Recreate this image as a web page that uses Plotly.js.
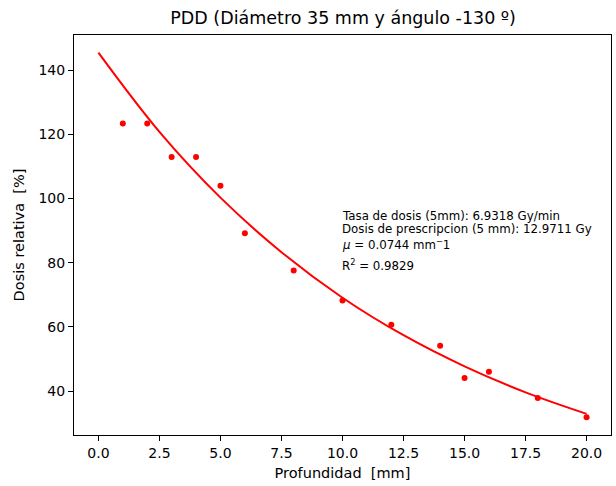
<!DOCTYPE html>
<html>
<head>
<meta charset="utf-8">
<script src="https://cdn.plot.ly/plotly-3.0.1.min.js"></script>
<style>html,body{margin:0;padding:0;background:#fff;}</style>
</head>
<body>
<div id="chart" style="width:616px;height:486px;"></div>
<script>
// Measured points
const depth = [1, 2, 3, 4, 5, 6, 8, 10, 12, 14, 15, 16, 18, 20];
const dose = [123.4, 123.4, 113.0, 113.0, 104.0, 89.2, 77.6, 68.2, 60.7, 54.1, 44.1, 46.0, 37.8, 31.8];
// Fitted curve
const fitDepth = [0, 2.5, 5, 7.5, 10, 12.5, 15, 17.5, 20];
const fitDose = [145.5, 120.8, 100.3, 83.3, 69.1, 57.4, 47.7, 39.6, 32.9];
// Text
const titleText = 'PDD (Diámetro 35 mm y ángulo -130 º)';
const xLabel = 'Profundidad\u00a0\u00a0[mm]';
const yLabel = 'Dosis relativa\u00a0\u00a0[%]';
const infoLines = [
  'Tasa de dosis (5mm): 6.9318 Gy/min',
  'Dosis de prescripcion (5 mm): 12.9711 Gy',
  '<i>μ</i> = 0.0744 mm<sup>−</sup>1',
  'R<sup>2</sup> = 0.9829'
];
const infoY = [94.5, 90.4, 85.8, 79.2];

const font = 'DejaVu Sans, sans-serif';
const traces = [
  {x: fitDepth, y: fitDose, mode: 'lines', line: {color: '#ff0000', width: 2, shape: 'spline', smoothing: 1}, hoverinfo: 'skip'},
  {x: depth, y: dose, mode: 'markers', marker: {color: '#ff0000', size: 6}}
];
const annotations = infoLines.map((t, i) => ({
  x: 9.93, y: infoY[i], xref: 'x', yref: 'y', text: t, showarrow: false,
  xanchor: 'left', yanchor: 'middle', borderpad: 0,
  font: {family: font, size: 11.8, color: '#000'}
}));
const axisBase = {
  showgrid: false, zeroline: false, showline: true, mirror: true,
  linecolor: '#000', linewidth: 1, ticks: 'outside', ticklen: 5, tickcolor: '#000',
  tickfont: {family: font, size: 14, color: '#000'}
};
const layout = {
  width: 616, height: 486,
  margin: {l: 74, r: 5, t: 35, b: 51},
  paper_bgcolor: '#fff', plot_bgcolor: '#fff',
  showlegend: false,
  title: {text: titleText, font: {family: font, size: 17.5, color: '#000'}, x: 0.557, xanchor: 'center', y: 0.963, yanchor: 'middle', yref: 'container'},
  xaxis: Object.assign({}, axisBase, {range: [-1, 21], dtick: 2.5, tick0: 0, tickformat: '.1f',
    title: {text: xLabel, font: {family: font, size: 14.5, color: '#000'}, standoff: 8}}),
  yaxis: Object.assign({}, axisBase, {range: [26.3, 151.0], dtick: 20, tick0: 0,
    title: {text: yLabel, font: {family: font, size: 14.5, color: '#000'}, standoff: 10}}),
  annotations: annotations
};
Plotly.newPlot('chart', traces, layout, {displayModeBar: false, staticPlot: true});
</script>
</body>
</html>
